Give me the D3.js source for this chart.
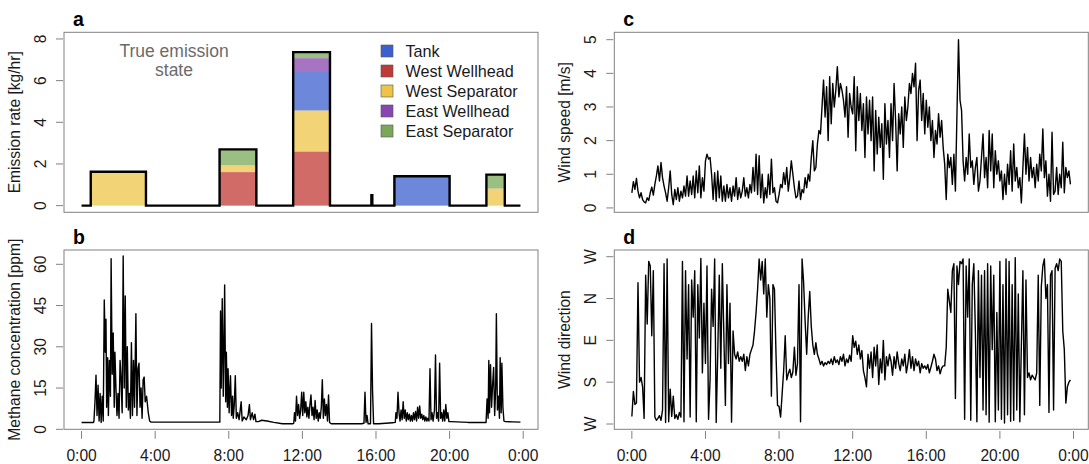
<!DOCTYPE html>
<html><head><meta charset="utf-8">
<script src="https://cdn.jsdelivr.net/npm/d3@7"></script>
<style>
body{margin:0;background:#fff}
svg{display:block}
text{font-family:"Liberation Sans",Arial,Helvetica,sans-serif}
</style>
</head><body>
<svg id="chart" width="1089" height="464"></svg>
<script>
// ---------------- DATA ----------------
const sources = ["Tank","West Wellhead","West Separator","East Wellhead","East Separator"];
const sourceColors = ["#3c5fcf","#c03a36","#edc448","#8a45b0","#7aa85a"];
// emission events (hours)
const eventStart = [0.5, 7.5, 11.5, 15.75, 17.0, 22.0];
const eventEnd   = [3.5, 9.5, 13.5, 15.8, 20.0, 23.0];
const tank          = [0, 0, 1.89, 0.5, 1.41, 0];
const westWellhead  = [0, 1.61, 2.60, 0, 0, 0];
const westSeparator = [1.63, 0.33, 1.97, 0, 0, 0.82];
const eastWellhead  = [0, 0, 0.62, 0, 0, 0];
const eastSeparator = [0, 0.76, 0.29, 0, 0, 0.67];
const timeEnd = 23.85;

// methane concentration: time (h) and ppm
const methaneTime = [0,0.65,0.673,0.729,0.785,0.841,0.897,0.953,1.009,1.065,1.121,1.178,1.234,1.290,1.327,1.364,1.421,1.458,1.514,1.570,1.607,1.664,1.720,1.776,1.813,1.869,1.925,1.981,2.037,2.093,2.150,2.206,2.262,2.318,2.374,2.430,2.486,2.542,2.598,2.654,2.710,2.766,2.822,2.879,2.953,3.009,3.065,3.121,3.178,3.234,3.290,3.346,3.402,3.458,3.533,3.626,3.701,3.776,
7.514,7.551,7.589,7.645,7.701,7.738,7.776,7.832,7.869,7.925,7.963,8.019,8.056,8.093,8.150,8.206,8.243,8.299,8.355,8.411,8.486,8.561,8.673,8.729,8.822,8.953,9.047,9.121,9.178,9.271,9.346,9.421,9.477,9.607,9.794,10.075,10.449,10.916,11.477,11.533,
11.570,11.626,11.682,11.738,11.794,11.850,11.907,11.963,12.019,12.075,12.131,12.187,12.243,12.299,12.355,12.411,12.467,12.523,12.579,12.636,12.692,12.748,12.804,12.860,12.916,12.972,13.028,13.084,13.140,13.196,13.252,13.308,13.364,13.421,13.477,13.570,
15.215,15.346,15.402,15.458,15.514,15.570,15.701,15.757,15.813,15.869,16.150,16.897,17.047,
17.084,17.140,17.196,17.252,17.308,17.364,17.421,17.477,17.533,17.589,17.645,17.701,17.757,17.813,17.869,17.925,17.981,18.037,18.093,18.150,18.206,18.262,18.318,18.374,18.430,18.486,18.542,18.598,18.654,18.710,18.766,18.822,18.879,18.935,18.991,19.047,19.103,19.178,19.234,19.290,19.346,19.402,19.458,19.514,19.570,19.626,19.682,19.738,19.794,19.850,19.907,19.963,20.075,21.009,21.981,
22.037,22.093,22.131,22.168,22.224,22.280,22.336,22.393,22.449,22.505,22.542,22.598,22.654,22.710,22.748,22.804,22.841,22.897,22.953,23.028,23.439,23.85];
const methanePpm = [2.5,2.5,3,10,19.7,5,16,3,13,2.5,12,3,47,28,40,8,26,5,25,12,62,20,35,8,28,15,5,13,4,25,18,6,63,15,48.5,8,30,7,13,4,31.5,5,25,8,42,5,22,24,8,15,4,18,19,10,12,6,3,2.6,
2.6,43,15,47.5,12,30,52.5,10,28,8,22,6,14,19.5,5,12,4,9,19.5,4,6,3.5,10,3,4.5,3.5,5,9,3.5,6,3.5,5.5,2.8,2.8,3.3,3.0,2.5,2.0,2.0,2.2,
6,3,12,5,9,4,7,13.5,5,13.5,6,10,4.5,8,4,9,12.5,5,8,3.5,10.5,4,7,3,6,4,8,18,4,11,5,9,3,12.5,2.5,2.0,
2.0,2.2,13.5,2.5,5,2.0,2.0,38.5,14,2.0,2.0,2.4,2.5,
6,4,13.5,6,3,7,3.5,10,4,7,3,6,3.5,5.5,3,5,3,6,3.5,6.5,3,8,4,8.5,4,5.5,3.5,5,3,4.5,3,4,3,22,3.5,6,3,7,27,4,6,3,24,4,6,3,7,3,9,4,6,2.8,2.8,2.5,2.5,
11,4,25,6,23.5,8,16,22.5,5,15,42,7,12,4,26,6,24,8,3,2.8,2.7,2.6];

// wind speed (m/s), one value every 5 minutes from 0:00
const windStepMin = 5;
const windSpeed = [
0.45,0.78,0.55,0.88,0.5,0.3,0.45,0.25,0.18,0.15,0.3,0.22,
0.45,0.62,0.38,0.7,0.95,1.25,0.8,1.35,0.9,0.65,0.45,0.2,
0.6,1.1,0.4,0.1,0.55,0.25,0.6,0.2,0.5,0.3,0.65,0.35,
0.95,0.35,0.8,0.4,0.95,0.3,1.1,0.45,1.25,0.3,0.9,0.5,
1.4,1.6,1.45,1.5,1.0,0.25,1.05,0.2,1.1,0.3,0.95,0.2,
0.65,0.2,0.7,0.3,0.6,0.2,0.65,0.35,0.9,0.25,0.6,0.3,
0.5,0.9,0.35,0.6,0.3,0.7,0.45,1.2,0.5,1.6,0.4,1.55,
0.3,1.0,0.15,0.6,0.3,1.0,0.4,1.45,0.45,0.6,0.2,0.15,
0.4,0.7,0.6,1.05,0.7,1.2,0.5,0.9,1.4,1.0,0.6,0.3,
0.35,0.8,0.25,0.55,0.45,0.9,0.6,1.0,0.8,1.5,2.0,1.1,
1.2,1.9,2.3,2.2,3.0,3.8,2.7,3.6,2.0,3.9,2.5,3.7,
3.0,3.5,4.2,3.3,3.7,3.5,3.2,2.7,3.6,2.1,3.4,3.0,
2.8,3.9,1.7,3.6,2.6,3.4,2.3,3.1,1.5,3.3,2.2,3.2,
2.0,3.3,1.1,2.9,1.6,2.7,1.8,2.5,0.85,3.1,1.9,2.6,
1.5,3.1,2.0,3.7,2.6,1.1,2.8,2.2,3.0,1.8,3.3,2.6,
3.0,3.7,3.4,4.0,3.6,4.3,2.0,3.5,3.8,2.6,3.4,2.2,
3.2,2.4,3.0,2.0,2.6,1.5,2.3,1.9,2.8,2.1,2.6,1.8,
1.3,0.25,1.6,1.2,1.5,0.7,1.6,0.5,2.8,5.0,3.2,2.9,
1.4,0.8,1.5,1.0,2.2,1.2,1.4,0.7,1.2,1.5,0.5,0.8,
1.5,2.2,0.9,1.5,0.6,2.3,1.1,2.2,0.6,1.7,1.0,1.4,
0.8,1.1,0.25,1.0,0.4,1.3,0.7,1.7,0.5,1.9,0.8,1.2,
0.6,0.9,0.15,1.2,2.2,1.0,1.8,0.8,1.5,0.9,1.2,0.6,
1.3,0.8,1.6,1.1,2.35,0.9,1.4,0.35,1.0,0.2,2.25,0.4,
0.5,1.2,0.4,1.0,0.6,1.95,0.45,1.2,0.9,1.1,0.7];

// wind direction (degrees, 0 = W, 90 = S, 180 = E, 270 = N, 360 = W), every 5 minutes
const windDir = [
16,70,42,45,304,90,100,80,12,320,215,350,
340,190,330,15,8,12,18,8,30,345,3,355,
5,75,16,60,12,20,10,25,15,350,5,330,
140,300,15,310,230,330,5,300,185,356,110,260,
130,340,10,95,290,210,355,3,150,320,120,345,
190,40,300,130,260,4,200,150,140,155,135,145,
135,150,115,145,125,150,160,170,200,240,290,355,
310,350,280,355,230,300,270,60,300,290,150,40,
38,15,65,115,190,95,108,118,100,112,165,105,
130,300,5,355,305,220,150,230,285,210,170,150,
175,150,140,128,135,125,132,128,135,130,140,128,
145,132,138,128,145,135,150,125,140,132,148,135,
190,165,178,150,170,140,158,115,100,80,150,120,
155,100,165,125,170,85,140,110,180,95,145,125,
150,135,105,145,120,155,130,115,140,125,150,110,
130,160,120,145,115,140,125,135,110,130,120,125,
118,128,110,122,135,150,140,115,125,108,120,125,
125,165,290,265,240,330,345,55,340,300,350,345,
355,10,340,230,355,8,300,345,200,5,330,100,
320,30,330,20,345,4,340,160,320,5,240,30,
350,10,300,2,355,20,350,6,300,8,358,30,
280,5,170,330,20,310,100,110,95,105,100,95,
110,320,40,295,340,355,270,300,25,320,330,30,
335,345,330,355,350,200,160,45,80,90,95];

const timeTicks = [0,4,8,12,16,20,24];
const timeTickLabels = ["0:00","4:00","8:00","12:00","16:00","20:00","0:00"];
const emissionTicks = [0,2,4,6,8];
const methaneTicks = [0,15,30,45,60];
const speedTicks = [0,1,2,3,4,5];
const dirTicks = [0,90,180,270,360];
const dirTickLabels = ["W","S","E","N","W"];

// ---------------- LAYOUT ----------------
const svg = d3.select("#chart");
svg.append("rect").attr("width",1089).attr("height",464).attr("fill","#fff");
const boxCol = "#808080", txtCol = "#1a1a1a", fs = 15.6;
const P = {
  a:{x0:64, x1:538, y0:32.3, y1:212.3},
  b:{x0:64, x1:538, y0:250, y1:429.3},
  c:{x0:614.3, x1:1088.3, y0:32.3, y1:212.3},
  d:{x0:614.3, x1:1088.3, y0:250, y1:429.3}
};
const tPad = 0.04*timeEnd;
function xScale(p){ return d3.scaleLinear().domain([-tPad, timeEnd+tPad]).range([p.x0,p.x1]); }
const xa = xScale(P.a), xb = xScale(P.b), xc = xScale(P.c), xd = xScale(P.d);
const ya = d3.scaleLinear().domain([-0.32, 8.32]).range([P.a.y1, P.a.y0]);
const yb = d3.scaleLinear().domain([0, 65.2]).range([P.b.y1, P.b.y0]);
const yc = d3.scaleLinear().domain([-0.13, 5.22]).range([P.c.y1, P.c.y0]);
const yd = d3.scaleLinear().domain([-11.4, 374.4]).range([P.d.y1, P.d.y0]);

function frame(p, letter, ytitle){
  svg.append("rect").attr("x",p.x0).attr("y",p.y0).attr("width",p.x1-p.x0).attr("height",p.y1-p.y0)
    .attr("fill","none").attr("stroke",boxCol).attr("stroke-width",1);
  svg.append("text").attr("x",p.x0+9).attr("y",p.y0-6).attr("font-size",19.5).attr("font-weight","bold")
    .attr("fill","#000").text(letter);
  const cy = (p.y0+p.y1)/2;
  svg.append("text").attr("transform",`translate(${p.x0-44.3},${cy}) rotate(-90)`)
    .attr("text-anchor","middle").attr("font-size",fs).attr("fill",txtCol).text(ytitle);
}
function yAxis(p, y, ticks, labels){
  const g = svg.append("g");
  ticks.forEach((t,i)=>{
    const yy = y(t);
    g.append("line").attr("x1",p.x0-8).attr("x2",p.x0-1).attr("y1",yy).attr("y2",yy).attr("stroke",boxCol);
    g.append("text").attr("transform",`translate(${p.x0-18},${yy}) rotate(-90)`)
      .attr("text-anchor","middle").attr("font-size",fs).attr("fill",txtCol).text(labels? labels[i] : t);
  });
}
function xAxis(p, x){
  const g = svg.append("g");
  timeTicks.forEach((t,i)=>{
    const xx = x(t);
    g.append("line").attr("x1",xx).attr("x2",xx).attr("y1",p.y1+1.7).attr("y2",p.y1+9.5).attr("stroke",boxCol);
    g.append("text").attr("x",xx).attr("y",p.y1+31.2).attr("text-anchor","middle")
      .attr("font-size",fs).attr("fill",txtCol).text(timeTickLabels[i]);
  });
}

// ---------------- PANEL A ----------------
const events = eventStart.map((s,i)=>({start:s,end:eventEnd[i],
  "Tank":tank[i],"West Wellhead":westWellhead[i],"West Separator":westSeparator[i],
  "East Wellhead":eastWellhead[i],"East Separator":eastSeparator[i]}));
const stackOrder = ["West Wellhead","West Separator","Tank","East Wellhead","East Separator"];
const colorOf = d3.scaleOrdinal().domain(sources).range(sourceColors);
const stacked = d3.stack().keys(stackOrder)(events);
stacked.forEach(layer=>{
  svg.append("g").selectAll("rect").data(layer.filter(d=>d[1]-d[0]>0)).enter().append("rect")
    .attr("x",d=>xa(d.data.start)).attr("width",d=>xa(d.data.end)-xa(d.data.start))
    .attr("y",d=>ya(d[1])).attr("height",d=>ya(d[0])-ya(d[1]))
    .attr("fill",colorOf(layer.key)).attr("fill-opacity",0.75);
});
const stepPts = [[0,0]];
events.forEach(e=>{
  const tot = stackOrder.reduce((s,k)=>s+e[k],0);
  stepPts.push([e.start,tot]); stepPts.push([e.end,0]);
});
stepPts.push([timeEnd,0]);
svg.append("path").attr("d", d3.line().x(d=>xa(d[0])).y(d=>ya(d[1])).curve(d3.curveStepAfter)(stepPts))
  .attr("fill","none").attr("stroke","#000").attr("stroke-width",2.4);
frame(P.a,"a","Emission rate [kg/hr]");
yAxis(P.a, ya, emissionTicks);
svg.append("text").attr("x",174).attr("y",56.5).attr("text-anchor","middle").attr("font-size",17.5)
  .attr("fill","#6b6b6b").text("True emission");
svg.append("text").attr("x",174).attr("y",76).attr("text-anchor","middle").attr("font-size",17.5)
  .attr("fill","#6b6b6b").text("state");
const leg = svg.append("g");
sources.forEach((s,i)=>{
  const cy = 51 + i*20;
  leg.append("rect").attr("x",381).attr("y",cy-6).attr("width",12).attr("height",12)
    .attr("fill",sourceColors[i]).attr("stroke","#555").attr("stroke-width",0.6);
  leg.append("text").attr("x",405.5).attr("y",cy+5.8).attr("font-size",16.2).attr("fill",txtCol).text(s);
});

// ---------------- PANEL B ----------------
const methane = methaneTime.map((t,i)=>[t, methanePpm[i]]);
svg.append("path").attr("d", d3.line().x(d=>xb(d[0])).y(d=>yb(d[1]))(methane))
  .attr("fill","none").attr("stroke","#000").attr("stroke-width",1.4).attr("stroke-linejoin","round");
frame(P.b,"b","Methane concentration [ppm]");
yAxis(P.b, yb, methaneTicks);
xAxis(P.b, xb);

// ---------------- PANEL C ----------------
svg.append("path").attr("d", d3.line().x((d,i)=>xc(i*windStepMin/60)).y(d=>yc(d))(windSpeed))
  .attr("fill","none").attr("stroke","#000").attr("stroke-width",1.4).attr("stroke-linejoin","round");
frame(P.c,"c","Wind speed [m/s]");
yAxis(P.c, yc, speedTicks);

// ---------------- PANEL D ----------------
svg.append("path").attr("d", d3.line().x((d,i)=>xd(i*windStepMin/60)).y(d=>yd(d))(windDir))
  .attr("fill","none").attr("stroke","#000").attr("stroke-width",1.4).attr("stroke-linejoin","round");
frame(P.d,"d","Wind direction");
yAxis(P.d, yd, dirTicks, dirTickLabels);
xAxis(P.d, xd);
</script>
</body></html>
